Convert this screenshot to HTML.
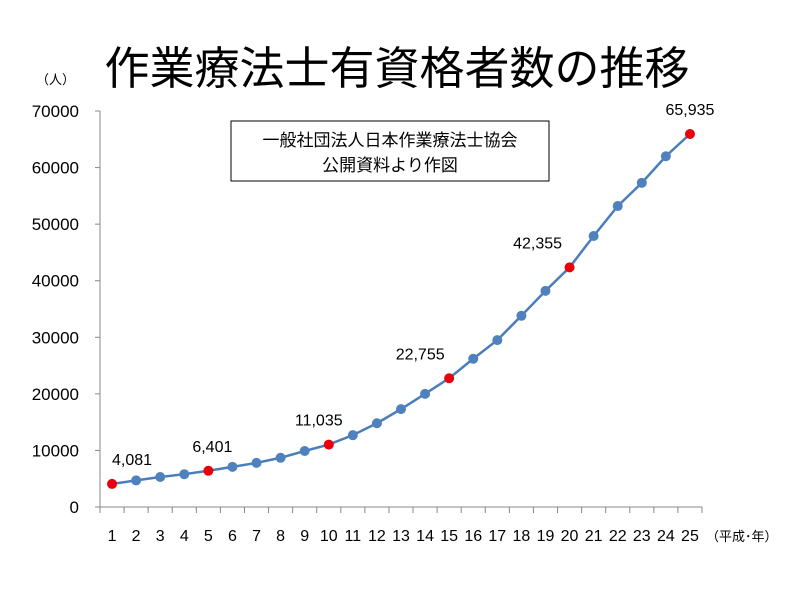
<!DOCTYPE html>
<html><head><meta charset="utf-8"><style>
body{margin:0;background:#fff;width:800px;height:600px;overflow:hidden;font-family:"Liberation Sans","Noto Sans CJK JP",sans-serif}
</style></head><body>
<svg id="chart" width="800" height="600" xmlns="http://www.w3.org/2000/svg" font-family="Liberation Sans, Noto Sans CJK JP, sans-serif">
<text x="397" y="84" font-size="45" text-anchor="middle" fill="#000">作業療法士有資格者数の推移</text>
<text x="36" y="84" font-size="13" fill="#000">（人）</text>
<text x="706" y="541" font-size="13" fill="#000">（平成･年）</text>
<g>
<rect x="231" y="121" width="318" height="60" fill="#fff" stroke="#000" stroke-width="1"/>
<text x="390" y="146" font-size="17" text-anchor="middle">一般社団法人日本作業療法士協会</text>
<text x="390" y="171" font-size="17" text-anchor="middle">公開資料より作図</text>
</g>
<g id="axes"></g>
<g id="marks"></g>
</svg>
<script>
const years = ['1','2','3','4','5','6','7','8','9','10','11','12','13','14','15','16','17','18','19','20','21','22','23','24','25'];
const counts = [4081,4700,5300,5800,6401,7100,7800,8700,9900,11035,12700,14800,17300,20000,22755,26200,29500,33800,38200,42355,47900,53200,57300,62000,65935];
const highlighted = ['1','5','10','15','20','25'];
const valueLabels = ['4,081','6,401','11,035','22,755','42,355','65,935'];
const yTicks = [0,10000,20000,30000,40000,50000,60000,70000];

const NS='http://www.w3.org/2000/svg';
const x0=100, x1=702, yBase=507, yTop=111, yMax=70000;
const step=(x1-x0)/years.length;
const xPos=i=>x0+step*(i+0.5);
const yPos=v=>yBase-(v/yMax)*(yBase-yTop);
const labelShift=[20,4,-10,-29,-32,0];
function mk(tag,attrs,parent){const e=document.createElementNS(NS,tag);for(const k in attrs)e.setAttribute(k,attrs[k]);parent.appendChild(e);return e;}
const axes=document.getElementById('axes'), marks=document.getElementById('marks');

const ya=mk('line',{x1:x0,y1:yTop,x2:x0,y2:yBase,stroke:'#888','stroke-width':1},axes);


const xa=mk('line',{x1:x0,y1:yBase,x2:x1,y2:yBase,stroke:'#888','stroke-width':1},axes);


yTicks.forEach(t=>{
  const y=yPos(t);
  mk('line',{x1:x0-5,y1:y,x2:x0,y2:y,stroke:'#888'},axes);
  const tx=mk('text',{x:x0-21,y:y+6,'font-size':17,'text-anchor':'end'},axes);
  tx.textContent=t;
  
  
});
for(let i=0;i<=years.length;i++){
  const x=x0+step*i;
  mk('line',{x1:x,y1:yBase,x2:x,y2:yBase+6,stroke:'#888'},axes);
}
years.forEach((yr,i)=>{
  const tx=mk('text',{x:xPos(i),y:541,'font-size':16,'text-anchor':'middle'},axes);
  tx.textContent=yr;
  
  
});
const pts=counts.map((v,i)=>xPos(i)+','+yPos(v)).join(' ');
const line=mk('polyline',{points:pts,fill:'none',stroke:'#4a7ebb','stroke-width':2.5},marks);


counts.forEach((v,i)=>{
  const hi=highlighted.indexOf(years[i]);
  const c=mk('circle',{cx:xPos(i),cy:yPos(v),r:5,fill:hi>=0?'#e8000b':'#4f81bd'},marks);
  
  
  if(hi>=0){
    const t=mk('text',{x:xPos(i)+labelShift[hi],y:yPos(v)-19,'font-size':16,'text-anchor':'middle'},marks);
    t.textContent=valueLabels[hi];
    
    
  }
});
</script>
</body></html>
